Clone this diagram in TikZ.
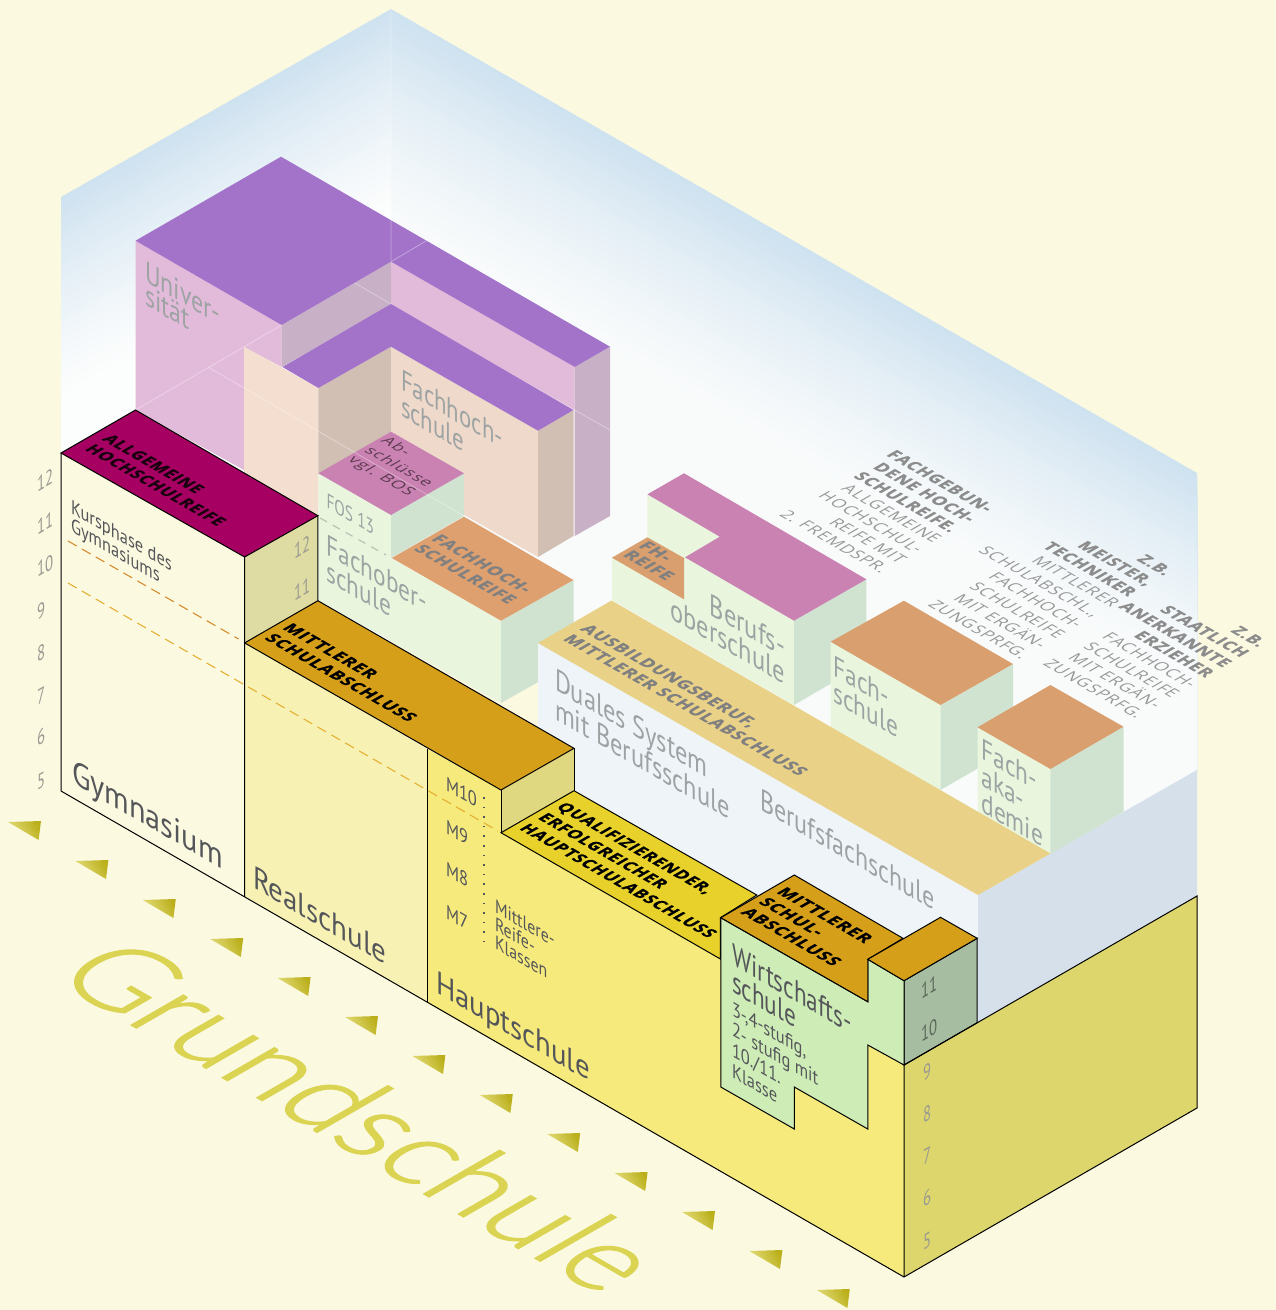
\documentclass[tikz,border=0pt]{standalone}
\usepackage{fontspec}
\setmainfont{PT Sans}
\newfontfamily\hdf[LetterSpace=6,BoldFeatures={FakeBold=1.2}]{Open Sans}
\newfontfamily\grf[FakeBold=1.5]{Lato Light}
\definecolor{bgc}{HTML}{FBF9E0}
\definecolor{wallb}{HTML}{CFE2F0}
\definecolor{wallw}{HTML}{FCFDFD}
\definecolor{wallr}{HTML}{F9FBFB}
\definecolor{purp}{HTML}{A373CA}
\definecolor{pink}{HTML}{E3BBDA}
\definecolor{pinkd}{HTML}{C8B1C6}
\definecolor{peach}{HTML}{F3DED0}
\definecolor{peachb}{HTML}{EFD9CB}
\definecolor{taupe}{HTML}{D1BFB4}
\definecolor{magl}{HTML}{C982B2}
\definecolor{grl}{HTML}{E9F6DD}
\definecolor{grd}{HTML}{D0E3D0}
\definecolor{oran}{HTML}{D99F6E}
\definecolor{oranb}{HTML}{DFA06F}
\definecolor{mag}{HTML}{A50062}
\definecolor{olv}{HTML}{DFDCA3}
\definecolor{reals}{HTML}{F7F2B4}
\definecolor{haupt}{HTML}{F5EA7B}
\definecolor{gold}{HTML}{D69F1A}
\definecolor{olv2}{HTML}{DFD880}
\definecolor{yel}{HTML}{E7D12A}
\definecolor{wgr}{HTML}{CDECB6}
\definecolor{wdk}{HTML}{A6BDA1}
\definecolor{side}{HTML}{DCD66C}
\definecolor{tan}{HTML}{E9D188}
\definecolor{pale}{HTML}{EEF4F8}
\definecolor{bgr}{HTML}{D5E0EA}
\definecolor{txd}{HTML}{55565A}
\definecolor{txg}{HTML}{9DA3A3}
\definecolor{txh}{HTML}{808080}
\definecolor{txb}{HTML}{8C8C8C}
\definecolor{txr}{HTML}{989898}
\definecolor{txn}{HTML}{9A9A92}
\definecolor{grund}{HTML}{DBD453}
\definecolor{dsha}{HTML}{D58A2A}
\definecolor{dshb}{HTML}{E5AE30}
\definecolor{trl}{HTML}{E6DF80}
\definecolor{trd}{HTML}{BBB01C}
\tikzset{
  lbl/.style={inner sep=0pt,outer sep=0pt,transform shape,align=left},
  ln/.style={draw=black,line width=.75pt,line join=miter},
  faint/.style={draw=white,draw opacity=.35,line width=.6pt},
  dsh/.style={line width=.8pt,dash pattern=on 7.5pt off 4.5pt}
}
% left face: name,x,y,size,lead,xscale,colour,text
\newcommand\LF[8]{\node[lbl,cm={.866,-.5,0,1,(#2,#3)},xscale=#6,text=#7,anchor=north west,font={\fontsize{#4}{#5}\selectfont}] (#1) at (0,0) {#8};}
\newcommand\LFR[8]{\node[lbl,align=right,cm={.866,-.5,0,1,(#2,#3)},xscale=#6,text=#7,anchor=north east,font={\fontsize{#4}{#5}\selectfont}] (#1) at (0,0) {#8};}
% top face
\newcommand\TF[8]{\node[lbl,cm={.866,-.5,.866,.5,(#2,#3)},xscale=#6,text=#7,anchor=north west,font={\hdf\bfseries\fontsize{#4}{#5}\selectfont}] (#1) at (0,0) {#8};}
\newcommand\TM[8]{\node[lbl,cm={.866,-.5,.866,.5,(#2,#3)},xscale=#6,text=#7,anchor=north west,font={\hdf\fontsize{#4}{#5}\selectfont}] (#1) at (0,0) {#8};}
\newcommand\TR[8]{\node[lbl,align=right,cm={.866,-.5,.866,.5,(#2,#3)},xscale=#6,text=#7,anchor=north east,font={\hdf\fontsize{#4}{#5}\selectfont}] (#1) at (0,0) {#8};}
\newcommand\rg[1]{\textcolor{txr}{#1}}
\begin{document}
\begin{tikzpicture}[x=.75pt,y=-.75pt]
\useasboundingbox (0,0) rectangle (1276,1310);
\fill[bgc] (0,0) rectangle (1276,1310);
% walls
\begin{scope}
\clip (61,197)--(391,9)--(391,700)--(61,453)--cycle;
\foreach \d in {0,4,...,196}{
  \pgfmathsetmacro\p{100*(1-\d/200)^1.3}
  \fill[wallb!\p!wallw] (61,197+\d)--(391,9+\d)--(391,800)--(61,800)--cycle;
}
\end{scope}
\begin{scope}
\clip (391,9)--(1197,473)--(1197,770)--(978,895)--(538,643)--(391,560)--cycle;
\foreach \d in {0,4,...,216}{
  \pgfmathsetmacro\p{100*(1-\d/220)^1.4}
  \fill[wallb!\p!wallr] (391,9+\d)--(1197,473+\d)--(1197,1000)--(391,1000)--cycle;
}
\end{scope}
\fill[bgr] (978,895)--(1197,770)--(1197,896)--(978,1022)--cycle;
% Universitaet
\fill[pink] (135.5,240.7)--(281.6,325)--(281.6,367)--(244,347)--(244,470)--(135.5,410)--cycle;
\fill[pinkd] (281.6,325)--(391,261.7)--(391,304.7)--(281.6,367)--cycle;
\fill[pink] (391,261.7)--(574.7,367)--(574.7,410)--(391,304.7)--cycle;
\fill[pinkd] (574.7,367)--(610,346.7)--(610,516)--(574.7,536)--cycle;
\fill[purp] (135.5,240.7)--(281,156.7)--(610,346.7)--(574.7,367)--(391,261.7)--(281.6,325)--cycle;
% Fachhochschule
\fill[peach] (244,346.7)--(318.4,388)--(318.4,520)--(244,478)--cycle;
\fill[taupe] (318.4,388)--(391,346.7)--(391,432)--(318.4,475)--cycle;
\fill[peachb] (391,346.7)--(538,430.7)--(538,557)--(391,473)--cycle;
\fill[taupe] (538,430.7)--(573.5,410)--(573.5,536)--(538,557)--cycle;
\fill[purp] (391,304)--(282.4,367)--(318.4,388)--(391,346.7)--(538,430.7)--(573.5,410)--cycle;
% Fachoberschule
\fill[grl] (318.4,473.3)--(391,515)--(391,558)--(501,620.7)--(501,703)--(318.4,600)--cycle;
\fill[grd] (391,515)--(464,473.3)--(464,516)--(391,558)--cycle;
\fill[grd] (501,620.7)--(573.5,580)--(573.5,662)--(501,703)--cycle;
\fill[magl] (318.4,473.3)--(391,431.7)--(464,473.3)--(391,515)--cycle;
\fill[oranb] (391.8,558)--(464,516.7)--(573.5,580)--(501,620.7)--cycle;
\draw[line width=.8pt,draw=grd!85!black,dash pattern=on 6pt off 5pt] (320,518)--(386,555);
% faint fold lines
\path[faint] (135.5,410)--(281.6,325) (208,367)--(464,516) (574.7,410)--(610,430)
  (355,283)--(391,304) (426.5,240.7)--(391,261.7) (391,9)--(391,261.7);
% Berufsoberschule
\fill[grl] (647.4,494.3)--(719.8,536.7)--(685,557.3)--(794,620.7)--(794,705)--(612,600)--(612,557.7)--(647.4,537.3)--cycle;
\fill[grd] (794,620.7)--(866.4,579.3)--(866.4,663)--(794,705)--cycle;
\fill[magl] (647.4,494.3)--(684,473.3)--(866.4,579.3)--(794,620.7)--(685,557.3)--(719.8,536.7)--cycle;
\fill[oran] (612,557.7)--(647.4,537.3)--(684,558)--(684,599.3)--cycle;
% Fachschule
\fill[grl] (830.6,641.7)--(940.5,705)--(940.5,790)--(830.6,728.3)--cycle;
\fill[grd] (940.5,705)--(1013,664)--(1013,748)--(940.5,790)--cycle;
\fill[oran] (830.6,641.7)--(903.9,600.7)--(1013,664)--(940.5,705)--cycle;
% Fachakademie
\fill[grl] (977.5,727.3)--(1050.4,769)--(1050.4,854)--(977.5,811.7)--cycle;
\fill[grd] (1050.4,769)--(1123.5,726.7)--(1123.5,811.7)--(1050.4,854)--cycle;
\fill[oran] (977.5,727.3)--(1050.4,685)--(1123.5,726.7)--(1050.4,769)--cycle;
% strip + Berufsfachschule
\fill[pale] (538,643)--(978,895)--(978,1060)--(904,1100)--(538,890)--cycle;
\fill[tan] (538,643)--(611.5,600.5)--(1050.4,853.5)--(978,895)--cycle;
% Gymnasium
\fill[bgc] (61,453)--(245,557)--(245,896)--(61,791)--cycle;
\fill[olv] (244.6,557)--(317.9,515.7)--(317.9,600.7)--(244.6,643)--cycle;
\fill[mag] (61,453)--(135.5,410)--(317.9,515.7)--(244.6,557)--cycle;
% Realschule
\fill[reals] (244.6,642.9)--(427.5,749)--(427.5,1003)--(244.6,896.4)--cycle;
% Hauptschule
\fill[haupt] (427.5,749)--(501,790)--(501,832.7)--(720.4,959)--(867.8,1045)--(904,1065)--(904,1277)--(427.5,1003)--cycle;
\fill[olv2] (501,790)--(574,748.3)--(574,790.7)--(501,832.7)--cycle;
\filldraw[ln,fill=gold] (244.6,642.9)--(317.9,600.7)--(574,748.3)--(501,790)--cycle;
\filldraw[ln,fill=yel] (501,832.7)--(574,790.7)--(756.8,895)--(720.4,917.7)--(720.4,959)--cycle;
\fill[side] (904,1065)--(1197,896)--(1197,1108)--(904,1277)--cycle;
% Wirtschaftsschule
\filldraw[ln,fill=wdk] (904,980.7)--(977.2,938.3)--(977.2,1022.7)--(904,1065)--cycle;
\filldraw[ln,fill=wgr] (720.8,917.7)--(867.8,1001.7)--(867.8,959.3)--(904,980.7)--(904,1065)--(867.8,1045)--(867.8,1129)--(794.3,1087)--(794.3,1129)--(720.8,1087)--cycle;
\filldraw[ln,fill=gold] (720.8,917.7)--(794.3,875)--(903,938.3)--(867.8,959.3)--(867.8,1001.7)--cycle;
\filldraw[ln,fill=gold] (867.8,959.3)--(940.5,917.3)--(977.2,938.3)--(904,980.7)--cycle;
% outlines
\draw[ln] (61,453)--(135.5,410)--(317.9,515.7)--(244.6,557)--cycle;
\draw[ln] (317.9,515.7)--(317.9,600.7) (244.6,557)--(244.6,896.4) (61,453)--(61,791)--(904,1277)--(1197,1108)--(1197,896)--(904,1065)--(904,1277);
\draw[ln] (427.5,749)--(427.5,1003) (501,790)--(501,832.7) (574,748.3)--(574,790.7);
% dashed
\draw[dsh,draw=dsha] (68,541)--(238.6,639);
\draw[dsh,draw=dshb] (68,583)--(498,831);
\draw[line width=1.2pt,draw=txd,dash pattern=on 1.2pt off 6pt] (484,797)--(484,942);
% triangles
\foreach \i in {0,...,12}{
  \shade[left color=trl,right color=trd,shading angle=120,shift={(\i*67.4,\i*39)}] (8,822)--(41,821)--(38.6,840)--cycle;
}
% Left-face labels
\LF{uni}{145}{260}{22.5}{17.5}{.92}{txg}{Univer-\\sität}
\LF{fhs}{401}{369}{22}{19.5}{.9}{txg}{Fachhoch-\\schule}
\LF{fos}{326.5}{493}{15.5}{15}{.86}{txg}{FOS 13}
\LF{fob}{326.5}{534}{22}{19.5}{.92}{txg}{Fachober-\\schule}
\LF{gym}{72}{758}{25.5}{25}{1.03}{txd}{Gymnasium}
\LF{real}{253}{865}{24}{24}{1.045}{txd}{Realschule}
\LF{haup}{436}{970}{24}{24}{1.04}{txd}{Hauptschule}
\LF{kurs}{71}{499}{15}{14}{.95}{txd}{Kursphase des\\Gymnasiums}
\LF{m10}{446}{776}{15}{15}{.95}{txd}{M10}
\LF{m9}{446}{819}{15}{15}{.95}{txd}{M9}
\LF{m8}{446}{861}{15}{15}{.95}{txd}{M8}
\LF{m7}{446}{904}{15}{15}{.95}{txd}{M7}
\LF{mrk}{495}{899}{14.5}{13.5}{.95}{txd}{Mittlere-\\Reife-\\Klassen}
\LF{dual}{555}{668}{23}{22}{.92}{txg}{Duales System\\mit Berufsschule}
\LF{bfs}{760}{788}{23}{23}{.905}{txg}{Berufsfachschule}
\LFR{bos}{785}{636}{23}{20}{.92}{txg}{Berufs-\\oberschule}
\LF{fsch}{833.5}{655}{22}{19.5}{.92}{txg}{Fach-\\schule}
\LF{fak}{981.5}{738}{22}{20}{.92}{txg}{Fach-\\aka-\\demie}
\LF{wir}{732}{943}{23}{20}{.875}{txd}{Wirtschafts-\\schule}
\LF{wst}{732}{1001}{15}{15.5}{.95}{txd}{3-,4-stufig,\\2- stufig mit\\10./11.\\Klasse}
% Top-face labels
\TF{ahr}{112}{433.5}{12.4}{15}{.96}{black!85!mag}{ALLGEMEINE\\HOCHSCHULREIFE}
\TF{msa}{292}{622.5}{12.4}{15.4}{1.03}{black}{MITTLERER\\SCHULABSCHLUSS}
\TF{fhr}{441}{533.5}{12.4}{15}{1.02}{txh}{FACHHOCH-\\SCHULREIFE}
\TF{aus}{590}{623.5}{12.4}{15}{1.03}{txh}{AUSBILDUNGSBERUF,\\MITTLERER SCHULABSCHLUSS}
\TF{qua}{566}{801.5}{12.4}{16}{.98}{black}{QUALIFIZIERENDER,\\ERFOLGREICHER\\HAUPTSCHULABSCHLUSS}
\TF{msb}{786}{886.5}{12.4}{15.4}{1.04}{black}{MITTLERER\\SCHUL-\\ABSCHLUSS}
\TF{fhb}{648}{540.5}{12.4}{13.5}{1.05}{txh}{FH-\\REIFE}
\TM{abs}{390}{436}{11.3}{14.3}{1.1}{black!55!magl}{Ab-\\schlüsse\\vgl. BOS}
\TR{w1}{996}{507}{12.3}{15.2}{1.0}{txb}{\textbf{FACHGEBUN-}\\\textbf{DENE HOCH-}\\\textbf{SCHULREIFE.}\\\rg{ALLGEMEINE}\\\rg{HOCHSCHUL-}\\\rg{REIFE MIT}\\\rg{2. FREMDSPR.}}
\TR{w2}{1175}{570.5}{12.3}{15.6}{1.0}{txb}{\textbf{Z.B.}\\\textbf{MEISTER,}\\\textbf{TECHNIKER}\\\rg{MITTLERER}\\\rg{SCHULABSCHL.,}\\\rg{FACHHOCH-}\\\rg{SCHULREIFE}\\\rg{MIT ERGÄN-}\\\rg{ZUNGSPRFG.}}
\TR{w3}{1269}{642}{12.3}{15.2}{1.0}{txb}{\textbf{Z.B.}\\\textbf{STAATLICH}\\\textbf{ANERKANNTE}\\\textbf{ERZIEHER}\\\rg{FACHHOCH-}\\\rg{SCHULREIFE}\\\rg{MIT ERGÄN-}\\\rg{ZUNGSPRFG.}}
% Grundschule
\node[inner sep=0pt,outer sep=0pt,transform shape,cm={.866,-.5,.866,.5,(50,978)},text=grund,anchor=base west,xscale=.97,font={\grf\fontsize{90}{90}\selectfont}] (grs) at (0,0) {Grundschule};
% numbers
\foreach \n/\yy in {12/492,11/535.6,10/577.7,9/620,8/662.7,7/705,6/746.6,5/790}{
  \node[lbl,cm={.866,.5,0,1,(37,\yy)},xscale=.8,text=txn,anchor=base west,font={\fontsize{16}{16}\selectfont}] (l\n) at (0,0) {\n};
}
\foreach \n/\yy in {12/559,11/601}{
  \node[lbl,cm={.866,.5,0,1,(294,\yy)},xscale=.8,text=txn,anchor=base west,font={\fontsize{16}{16}\selectfont}] (g\n) at (0,0) {\n};
}
\foreach \n/\yy in {11/999,10/1042}{
  \node[lbl,cm={.866,.5,0,1,(921,\yy)},xscale=.8,text=black!45!wdk,anchor=base west,font={\fontsize{16}{16}\selectfont}] (w\n) at (0,0) {\n};
}
\foreach \n/\yy in {9/1081,8/1123,7/1165,6/1207,5/1250}{
  \node[lbl,cm={.866,.5,0,1,(923,\yy)},xscale=.8,text=txn,anchor=base west,font={\fontsize{16}{16}\selectfont}] (s\n) at (0,0) {\n};
}
\end{tikzpicture}
\end{document}
